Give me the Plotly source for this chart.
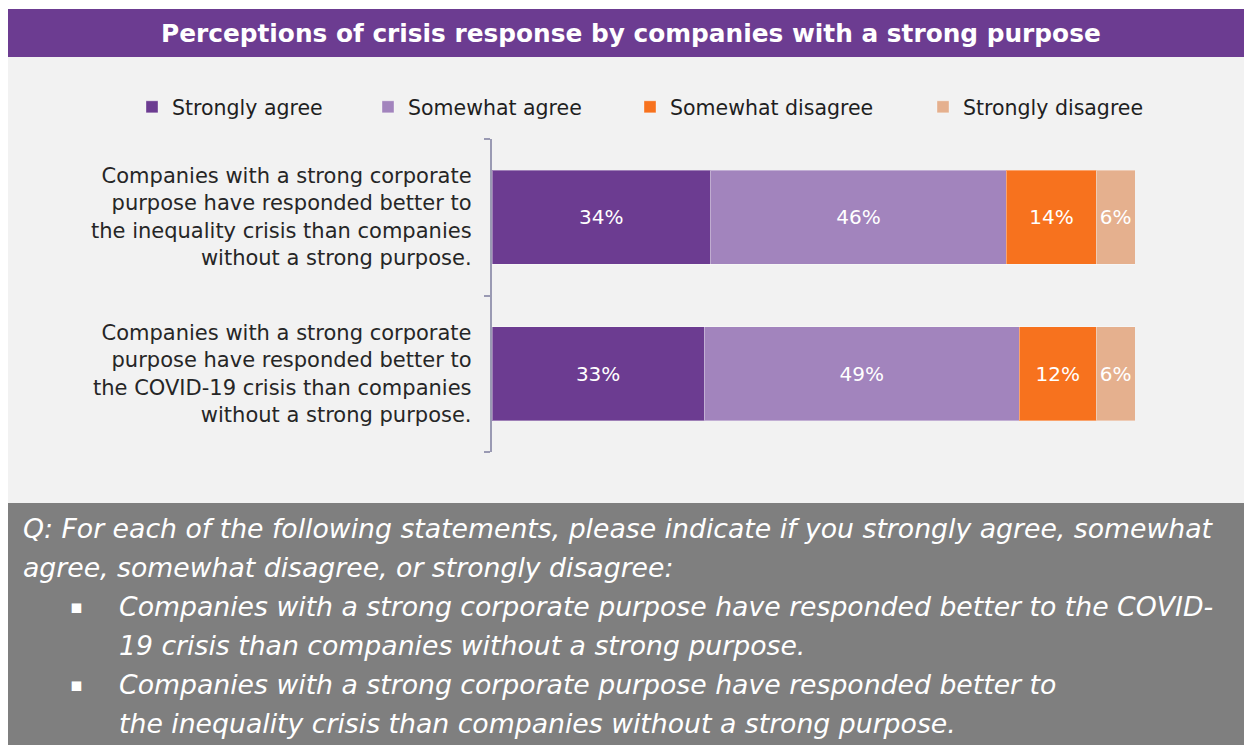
import plotly.graph_objects as go

# ---------------- data ----------------
categories = ["COVID-19 crisis", "Inequality crisis"]  # bottom -> top
category_labels = [
    "Companies with a strong corporate<br>purpose have responded better to<br>the COVID-19 crisis than companies<br>without a strong purpose.",
    "Companies with a strong corporate<br>purpose have responded better to<br>the inequality crisis than companies<br>without a strong purpose.",
]
series_names = ["Strongly agree", "Somewhat agree", "Somewhat disagree", "Strongly disagree"]
strongly_agree = [33, 34]
somewhat_agree = [49, 46]
somewhat_disagree = [12, 14]
strongly_disagree = [6, 6]
series_values = [strongly_agree, somewhat_agree, somewhat_disagree, strongly_disagree]
series_colors = ["#6c3c91", "#a284bd", "#f7721e", "#e5b08e"]

title_text = "Perceptions of crisis response by companies with a strong purpose"
question_lines = [
    "Q: For each of the following statements, please indicate if you strongly agree, somewhat",
    "agree, somewhat disagree, or strongly disagree:",
]
bullet_lines = [
    ["Companies with a strong corporate purpose have responded better to the COVID-",
     "19 crisis than companies without a strong purpose."],
    ["Companies with a strong corporate purpose have responded better to",
     "the inequality crisis than companies without a strong purpose."],
]

# ---------------- layout helpers ----------------
W, H = 1252, 745
OFF = 8  # page offset of the figure in the screenshot
L, R, T, B = 484, 125, 131, 301
PW = W - L - R
PH = H - T - B
FONT = "DejaVu Sans"


def px(x):  # screenshot x -> paper
    return (x - OFF - L) / PW


def py(y):  # screenshot y -> paper
    return (H - B - (y - OFF)) / PH


fig = go.Figure()
legend_names = ["legend", "legend2", "legend3", "legend4"]
for name, vals, color, lg in zip(series_names, series_values, series_colors, legend_names):
    fig.add_trace(go.Bar(
        y=categories, x=vals, name=name, orientation="h",
        marker=dict(color=color, line=dict(color="rgba(255,255,255,0.35)", width=1)),
        width=0.6,
        text=[f"{v}%" for v in vals], textposition="inside", insidetextanchor="middle",
        textfont=dict(color="white", size=20, family=FONT),
        legend=lg, hoverinfo="skip",
    ))

shapes = [
    dict(type="rect", xref="paper", yref="paper", x0=px(8), x1=px(1262), y0=py(9), y1=py(57),
         fillcolor="#6c3c91", line=dict(width=0), layer="below"),
    dict(type="rect", xref="paper", yref="paper", x0=px(8), x1=px(1262), y0=py(57), y1=py(503),
         fillcolor="#f2f2f2", line=dict(width=0), layer="below"),
    dict(type="rect", xref="paper", yref="paper", x0=px(8), x1=px(1262), y0=py(503), y1=py(753),
         fillcolor="#7f7f7f", line=dict(width=0), layer="below"),
]

annotations = [
    dict(text=f"<b>{title_text}</b>", xref="paper", yref="paper", x=px(631), y=py(34),
         xanchor="center", yanchor="middle", showarrow=False,
         font=dict(family=FONT, size=24.8, color="white")),
]
for cat, lab in zip(categories, category_labels):
    annotations.append(dict(text=lab, xref="paper", yref="y", x=px(474), y=cat,
                            xanchor="right", yanchor="middle", align="right", showarrow=False,
                            font=dict(family=FONT, size=21, color="#262626")))

ys = [528 + 39 * k for k in range(6)]
i = 0
for line in question_lines:
    annotations.append(dict(text=f"<i>{line}</i>", xref="paper", yref="paper", x=px(21), y=py(ys[i]),
                            xanchor="left", yanchor="middle", showarrow=False,
                            font=dict(family=FONT, size=26.7, color="white")))
    i += 1
for block in bullet_lines:
    annotations.append(dict(text="▪", xref="paper", yref="paper", x=px(76), y=py(ys[i]),
                            xanchor="center", yanchor="middle", showarrow=False,
                            font=dict(family=FONT, size=19, color="white")))
    for line in block:
        annotations.append(dict(text=f"<i>{line}</i>", xref="paper", yref="paper", x=px(117), y=py(ys[i]),
                                xanchor="left", yanchor="middle", showarrow=False,
                                font=dict(family=FONT, size=26.7, color="white")))
        i += 1

legend_lefts = [132, 368, 630, 923]
legend_cfg = {}
for lg, lx in zip(legend_names, legend_lefts):
    legend_cfg[lg] = dict(x=px(lx), xanchor="left", y=py(107), yanchor="middle",
                          orientation="h", bgcolor="rgba(0,0,0,0)",
                          font=dict(family=FONT, size=20.5, color="#1f1f1f"))

fig.update_layout(
    width=W, height=H, margin=dict(l=L, r=R, t=T, b=B),
    barmode="stack", paper_bgcolor="white", plot_bgcolor="#f2f2f2",
    shapes=shapes, annotations=annotations,
    uniformtext=dict(minsize=20, mode="show"),
    showlegend=True,
    xaxis=dict(range=[0, 100], visible=False, fixedrange=True),
    yaxis=dict(categoryorder="array", categoryarray=categories, range=[-0.5, 1.5],
               showline=True, linecolor="#9a9ab3", linewidth=1.5,
               ticks="outside", tickson="boundaries", ticklen=6, tickcolor="#9a9ab3", tickwidth=1.5,
               showticklabels=False, showgrid=False, zeroline=False, fixedrange=True),
    **legend_cfg,
)

fig.write_html("out.html")
